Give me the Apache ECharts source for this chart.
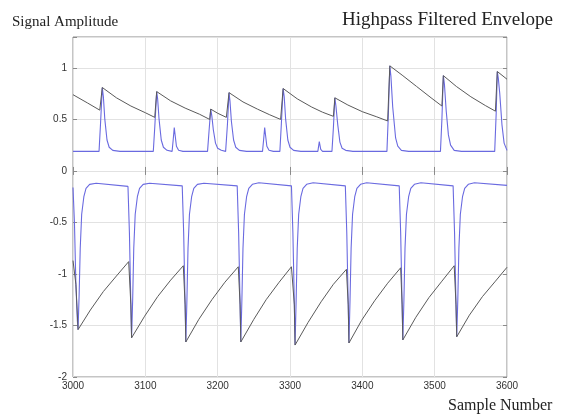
<!DOCTYPE html>
<html><head><meta charset="utf-8">
<script src="https://cdn.jsdelivr.net/npm/echarts@6/dist/echarts.min.js"></script>
<style>html,body{margin:0;padding:0;background:#fff}#c{width:562px;height:414px}</style>
</head><body><div id="c"></div>
<script>
// ---- data ----
const xTicks = [3000, 3100, 3200, 3300, 3400, 3500, 3600];
const yTicks = [-2, -1.5, -1, -0.5, 0, 0.5, 1];

const blueTop = [
[3000,0.19],[3036,0.19],[3038,0.45],[3040.5,0.81],[3042,0.72],[3044,0.5],[3047,0.3],[3050,0.23],[3055,0.2],[3065,0.19],
[3111,0.19],[3113,0.42],[3115.7,0.77],[3117,0.7],[3119,0.5],[3122,0.3],[3125,0.23],[3130,0.2],[3137,0.19],[3138.5,0.3],[3140,0.42],[3141.5,0.33],[3143,0.24],[3146,0.2],[3152,0.19],
[3186,0.19],[3188,0.38],[3190.4,0.60],[3192,0.53],[3194,0.4],[3197,0.27],[3200,0.22],[3205,0.2],[3211,0.19],[3213.5,0.45],[3215.7,0.76],[3217,0.68],[3219,0.48],[3222,0.3],[3225,0.23],[3230,0.2],[3240,0.19],
[3262,0.19],[3263.5,0.3],[3265,0.42],[3266.5,0.33],[3268,0.24],[3271,0.2],[3277,0.19],[3286,0.19],[3288,0.45],[3290.5,0.80],[3292,0.72],[3294,0.5],[3297,0.3],[3300,0.23],[3305,0.2],[3315,0.19],
[3338.5,0.19],[3340.5,0.285],[3342.5,0.21],[3345,0.19],[3358,0.19],[3360,0.42],[3362,0.71],[3363.5,0.63],[3366,0.45],[3369,0.28],[3372,0.22],[3377,0.2],[3387,0.19],
[3434,0.19],[3436,0.55],[3438,1.02],[3439.5,0.92],[3442,0.62],[3446,0.32],[3449,0.24],[3454,0.2],[3464,0.19],
[3508,0.19],[3510,0.5],[3512,0.925],[3513.5,0.84],[3516,0.58],[3519,0.35],[3522,0.25],[3527,0.2],[3537,0.19],
[3583,0.19],[3585,0.55],[3586.6,0.965],[3588,0.9],[3590,0.75],[3593,0.45],[3596,0.27],[3600,0.2]
];

const blackTop = [
[3000,0.74],[3020,0.66],[3037,0.59],[3040.5,0.81],[3060,0.71],[3080,0.63],[3100,0.565],[3113,0.52],
[3115.7,0.77],[3135,0.68],[3155,0.61],[3175,0.55],[3189,0.5],[3190.4,0.60],[3200,0.56],[3212,0.52],
[3215.7,0.76],[3235,0.67],[3255,0.6],[3272,0.545],[3287,0.5],[3290.5,0.80],[3310,0.70],[3330,0.62],[3345,0.57],[3360,0.53],
[3362,0.71],[3380,0.64],[3400,0.575],[3420,0.525],[3435,0.485],[3438,1.02],[3455,0.93],[3475,0.82],[3495,0.71],[3510,0.63],
[3512,0.925],[3530,0.82],[3550,0.72],[3570,0.635],[3584,0.58],[3586.6,0.965],[3600,0.89]
];

const blueBottom = [
[3000,-0.16],[3002,-0.5],[3004,-1.1],[3006,-1.45],[3007,-1.54],[3008.5,-1.2],[3010,-0.75],[3012,-0.42],[3015,-0.25],[3018,-0.17],[3023,-0.13],[3032,-0.12],[3076,-0.15],
[3078,-0.6],[3080,-1.3],[3081,-1.62],[3082.5,-1.25],[3084,-0.75],[3086,-0.42],[3089,-0.25],[3092,-0.17],[3097,-0.13],[3106,-0.12],[3151,-0.145],
[3153,-0.6],[3155,-1.3],[3156,-1.66],[3157.5,-1.25],[3159,-0.75],[3161,-0.42],[3164,-0.25],[3167,-0.17],[3172,-0.13],[3181,-0.12],[3227,-0.145],
[3229,-0.6],[3231,-1.3],[3232,-1.66],[3233.5,-1.25],[3235,-0.75],[3237,-0.42],[3240,-0.25],[3243,-0.17],[3248,-0.13],[3257,-0.115],[3302,-0.145],
[3304,-0.6],[3306,-1.3],[3307,-1.69],[3308.5,-1.25],[3310,-0.75],[3312,-0.42],[3315,-0.25],[3318,-0.17],[3323,-0.13],[3332,-0.115],[3376.5,-0.145],
[3378.5,-0.6],[3380.5,-1.3],[3381.5,-1.67],[3383,-1.25],[3384.5,-0.75],[3386.5,-0.42],[3389.5,-0.25],[3392.5,-0.17],[3397.5,-0.13],[3406,-0.115],[3451,-0.145],
[3453,-0.6],[3455,-1.3],[3456,-1.64],[3457.5,-1.25],[3459,-0.75],[3461,-0.42],[3464,-0.25],[3467,-0.17],[3472,-0.13],[3481,-0.115],[3525.5,-0.145],
[3527.5,-0.6],[3529.5,-1.3],[3530.5,-1.61],[3532,-1.25],[3533.5,-0.75],[3535.5,-0.42],[3538.5,-0.25],[3541.5,-0.17],[3546.5,-0.13],[3555,-0.115],[3600,-0.14]
];

const blackBottom = [
[3000,-0.87],[3004,-1.1],[3007,-1.54],[3024,-1.35],[3042,-1.17],[3060,-1.02],[3077,-0.88],
[3080,-1.3],[3081,-1.62],[3099,-1.41],[3117,-1.22],[3135,-1.06],[3152.5,-0.92],
[3155,-1.3],[3156,-1.66],[3174,-1.44],[3192,-1.25],[3210,-1.08],[3228.5,-0.93],
[3231,-1.3],[3232,-1.66],[3250,-1.44],[3267,-1.25],[3285,-1.08],[3302,-0.93],
[3306,-1.3],[3307,-1.69],[3325,-1.47],[3343,-1.27],[3360,-1.1],[3378,-0.955],
[3380.5,-1.3],[3381.5,-1.67],[3399,-1.45],[3417,-1.26],[3435,-1.09],[3453,-0.94],
[3455,-1.3],[3456,-1.64],[3474,-1.42],[3492,-1.23],[3510,-1.07],[3527,-0.92],
[3529.5,-1.3],[3530.5,-1.61],[3548,-1.40],[3566,-1.22],[3584,-1.07],[3600,-0.935]
];

// ---- chart ----
const chart = echarts.init(document.getElementById('c'), null, {renderer:'canvas'});
const serif = '"Liberation Serif","DejaVu Serif",serif';
const sans = '"Liberation Sans",Arial,sans-serif';
const isTick = (arr) => (v) => arr.some(t => Math.abs(t - v) < 1e-6) ? String(v) : '';
const blue = '#6a6ae0', dark = '#5a5a5a';
function line(data, color, z, w){
  return {type:'line', data, showSymbol:false, symbol:'none', animation:false,
    lineStyle:{color, width:w}, z, xAxisIndex:0, yAxisIndex:0};
}
chart.setOption({
  animation:false,
  backgroundColor:'#fff',
  title:[
    {text:'Signal Amplitude', left:7, top:10, textStyle:{fontFamily:serif, fontSize:15, fontWeight:'normal', color:'#222'}},
    {text:'Highpass Filtered Envelope', right:4, top:6, textStyle:{fontFamily:serif, fontSize:19, fontWeight:'normal', color:'#222'}},
    {text:'Sample Number', left:443, top:393, textStyle:{fontFamily:serif, fontSize:16, fontWeight:'normal', color:'#222'}}
  ],
  grid:{left:73, right:55, top:37, bottom:37, show:true, borderColor:'#8a8a8a', borderWidth:1},
  xAxis:[
    {type:'value', min:3000, max:3600, interval:100,
     axisLine:{show:false}, axisTick:{inside:true, length:4, lineStyle:{color:'#8a8a8a'}},
     axisLabel:{formatter:isTick(xTicks), fontFamily:sans, fontSize:10, color:'#333', margin:4},
     splitLine:{show:true, lineStyle:{color:'#e2e2e2', width:1}}},
    {type:'value', position:'top', min:3000, max:3600, interval:100,
     axisLine:{show:false}, axisTick:{inside:true, length:4, lineStyle:{color:'#8a8a8a'}},
     axisLabel:{show:false}, splitLine:{show:false}}
  ],
  yAxis:[
    {type:'value', min:-2, max:1.3, interval:0.5,
     axisLine:{show:false}, axisTick:{inside:true, length:4, lineStyle:{color:'#8a8a8a'}},
     axisLabel:{formatter:isTick(yTicks), fontFamily:sans, fontSize:10, color:'#333', margin:6},
     splitLine:{show:true, lineStyle:{color:'#e2e2e2', width:1}}},
    {type:'value', position:'right', min:-2, max:1.3, interval:0.5,
     axisLine:{show:false}, axisTick:{inside:true, length:4, lineStyle:{color:'#8a8a8a'}},
     axisLabel:{show:false}, splitLine:{show:false}}
  ],
  series:[
    line(blueTop, blue, 2, 1.1),
    line(blueBottom, blue, 2, 1.1),
    line(blackTop, dark, 3, 1),
    line(blackBottom, dark, 3, 1)
  ]
});
</script>
</body></html>
